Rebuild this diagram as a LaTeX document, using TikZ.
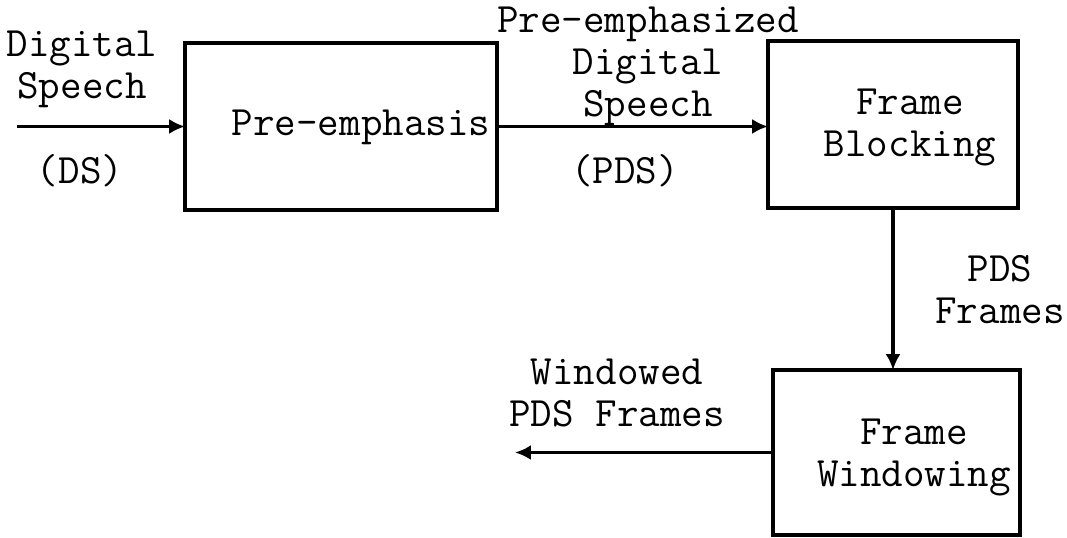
\documentclass[tikz,border=0pt]{standalone}
\usetikzlibrary{arrows.meta}

\begin{document}
\begin{tikzpicture}[x=0.02cm, y=-0.02cm, line width=1.8pt,
  font=\ttfamily\fontsize{23.8}{23.9}\selectfont]

\useasboundingbox (0,0) rectangle (1067,537);

% processing blocks
\path [every node/.style={draw, inner sep=0pt, outer sep=0pt}]
  node[minimum width=6.24cm, minimum height=3.34cm] (preemph) at (341,126.5) {}
  node[minimum width=5cm, minimum height=3.34cm] (blocking) at (893,124.5) {}
  node[minimum width=4.94cm, minimum height=3.3cm] (windowing) at (896.5,452.5) {};

% texts
\path [every node/.style={align=center, inner sep=0pt}]
  node (ds) at (82,69) {Digital\\Speech}
  node (dsabbr) at (80,171) {(DS)}
  node (preemphtext) at (361,127) {Pre-emphasis}
  node (pds) at (648,66) {Pre-emphasized\\Digital\\Speech}
  node (pdsabbr) at (625,171) {(PDS)}
  node (blockingtext) at (910,128) {Frame\\Blocking}
  node (frames) at (1000,290) {PDS\\Frames}
  node (windowed) at (617,393) {Windowed\\PDS Frames}
  node (windowingtext) at (914,458) {Frame\\Windowing};

\coordinate (input) at (17,126.5);
\coordinate (output) at (515,452.5);

\begin{scope}[->,>={Latex[length=9pt,width=8.5pt]}]
	% input and first link
	\draw (input) -- (preemph.west);
	\draw (preemph.east) -- (preemph.east -| blocking.west);
	% down to windowing, then out
	\draw (blocking.south) -- (blocking.south |- windowing.north);
	\draw (windowing.west) -- (output);
\end{scope}

\end{tikzpicture}
\end{document}
